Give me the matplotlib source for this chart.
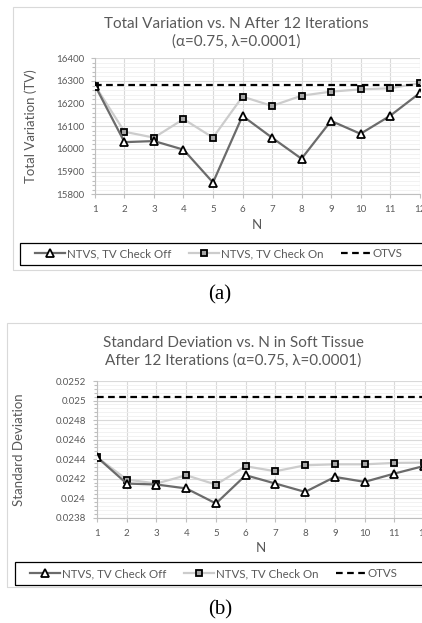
import numpy as np
import matplotlib.pyplot as plt
from matplotlib.patches import Rectangle
from matplotlib.ticker import MultipleLocator, AutoMinorLocator, FuncFormatter

plt.rcParams['font.family'] = ['Lato', 'DejaVu Sans']

# Datos leídos por iteración N = 1..12
N = np.arange(1, 13)

tv_off = [16280, 16030, 16035, 15997, 15852, 16146, 16050, 15957, 16124, 16067, 16146, 16246]
tv_on = [16280, 16076, 16050, 16132, 16050, 16231, 16190, 16235, 16253, 16263, 16268, 16290]
tv_otvs = 16282

sd_off = [0.02442, 0.02415, 0.02414, 0.02410, 0.023946, 0.024235, 0.02415, 0.024064,
          0.024218, 0.024167, 0.024252, 0.02433]
sd_on = [0.02442, 0.024191, 0.02415, 0.024235, 0.024139, 0.024327, 0.024276, 0.024337,
         0.024347, 0.024347, 0.024361, 0.024364]
sd_otvs = 0.025032

GRIS_TEXTO = '#595959'
GRIS_EJE = '#bfbfbf'


def dibujar_panel(ax, off, on, otvs, ylim, ypaso):
    ax.plot(N, off, color='#6b6b6b', lw=1.6, marker='^', ms=6,
            mfc='white', mec='black', mew=1.3, label='NTVS, TV Check Off', zorder=4)
    ax.plot(N, on, color='#cccccc', lw=1.6, marker='s', ms=5,
            mfc='#a6a6a6', mec='black', mew=1.3, label='NTVS, TV Check On', zorder=3)
    ax.plot(N, [otvs] * len(N), color='black', lw=1.6, ls=(0, (3, 2)),
            label='OTVS', zorder=5)
    ax.set_xlim(1, 12)
    ax.set_ylim(*ylim)
    ax.set_xticks(N)
    ax.yaxis.set_major_locator(MultipleLocator(ypaso))
    ax.yaxis.set_minor_locator(AutoMinorLocator(5))
    ax.grid(which='major', color='#d9d9d9', lw=0.8)
    ax.grid(which='minor', axis='y', color='#f0f0f0', lw=0.6)
    ax.set_axisbelow(True)
    for lado in ('top', 'right'):
        ax.spines[lado].set_visible(False)
    for lado in ('left', 'bottom'):
        ax.spines[lado].set_color(GRIS_EJE)
        ax.spines[lado].set_linewidth(0.8)
    ax.tick_params(which='both', colors=GRIS_EJE, labelcolor=GRIS_TEXTO,
                   labelsize=7, width=0.8)
    ax.tick_params(which='major', length=3, pad=5)
    ax.tick_params(which='minor', length=2)
    ax.tick_params(axis='x', which='minor', length=0)
    ax.set_xlabel('N', fontsize=9.5, color=GRIS_TEXTO, labelpad=3)


def leyenda(ax, x0, y_sup, alto):
    # caja de la leyenda a lo ancho del gráfico, entradas sin marco propio
    fig.add_artist(Rectangle((x0, y_sup - alto), 1.0, alto, transform=fig.transFigure,
                             fill=False, edgecolor='black', lw=0.9))
    fig.legend(*ax.get_legend_handles_labels(), loc='center left',
               bbox_to_anchor=(x0 + 0.036, y_sup - alto / 2), ncol=3, fontsize=8.3,
               frameon=False, handlelength=2.6, handletextpad=0.15,
               columnspacing=1.55, borderpad=0, borderaxespad=0,
               labelcolor=GRIS_TEXTO)


fig = plt.figure(figsize=(4.22, 6.23), dpi=100)

# Marcos de cada gráfico
fig.add_artist(Rectangle((0.0308, 0.5666), 1.0, 0.4222, transform=fig.transFigure,
                         fill=False, edgecolor='#d9d9d9', lw=0.8))
fig.add_artist(Rectangle((0.0166, 0.0578), 1.0, 0.4238, transform=fig.transFigure,
                         fill=False, edgecolor='#d9d9d9', lw=0.8))

# (a) Variación total
ax1 = fig.add_axes([0.2251, 0.6881, 0.769, 0.2183])
dibujar_panel(ax1, tv_off, tv_on, tv_otvs, (15800, 16400), 100)
ax1.set_ylabel('Total Variation (TV)', fontsize=9.5, color=GRIS_TEXTO)
ax1.yaxis.set_label_coords(-0.18, 0.5)
fig.text(0.561, 0.948, 'Total Variation vs. N After 12 Iterations\n(\u03b1=0.75, \u03bb=0.0001)',
         ha='center', va='center', fontsize=11, color=GRIS_TEXTO, linespacing=1.3)
leyenda(ax1, 0.0474, 0.6104, 0.0358)
fig.text(0.521, 0.5265, '(a)', ha='center', va='center', fontsize=15,
         family='Liberation Serif')

# (b) Desviación estándar
ax2 = fig.add_axes([0.2299, 0.169, 0.775, 0.2194])
dibujar_panel(ax2, sd_off, sd_on, sd_otvs, (0.0238, 0.0252), 0.0002)
ax2.yaxis.set_major_formatter(FuncFormatter(lambda v, p: f'{round(v, 6):g}'))
ax2.set_ylabel('Standard Deviation', fontsize=9.5, color=GRIS_TEXTO)
ax2.yaxis.set_label_coords(-0.22, 0.5)
fig.text(0.552, 0.4357, 'Standard Deviation vs. N in Soft Tissue\nAfter 12 Iterations (\u03b1=0.75, \u03bb=0.0001)',
         ha='center', va='center', fontsize=11, color=GRIS_TEXTO, linespacing=1.3)
leyenda(ax2, 0.0355, 0.0979, 0.0369)
fig.text(0.521, 0.0209, '(b)', ha='center', va='center', fontsize=15,
         family='Liberation Serif')

fig.savefig('out.png', dpi=100)
